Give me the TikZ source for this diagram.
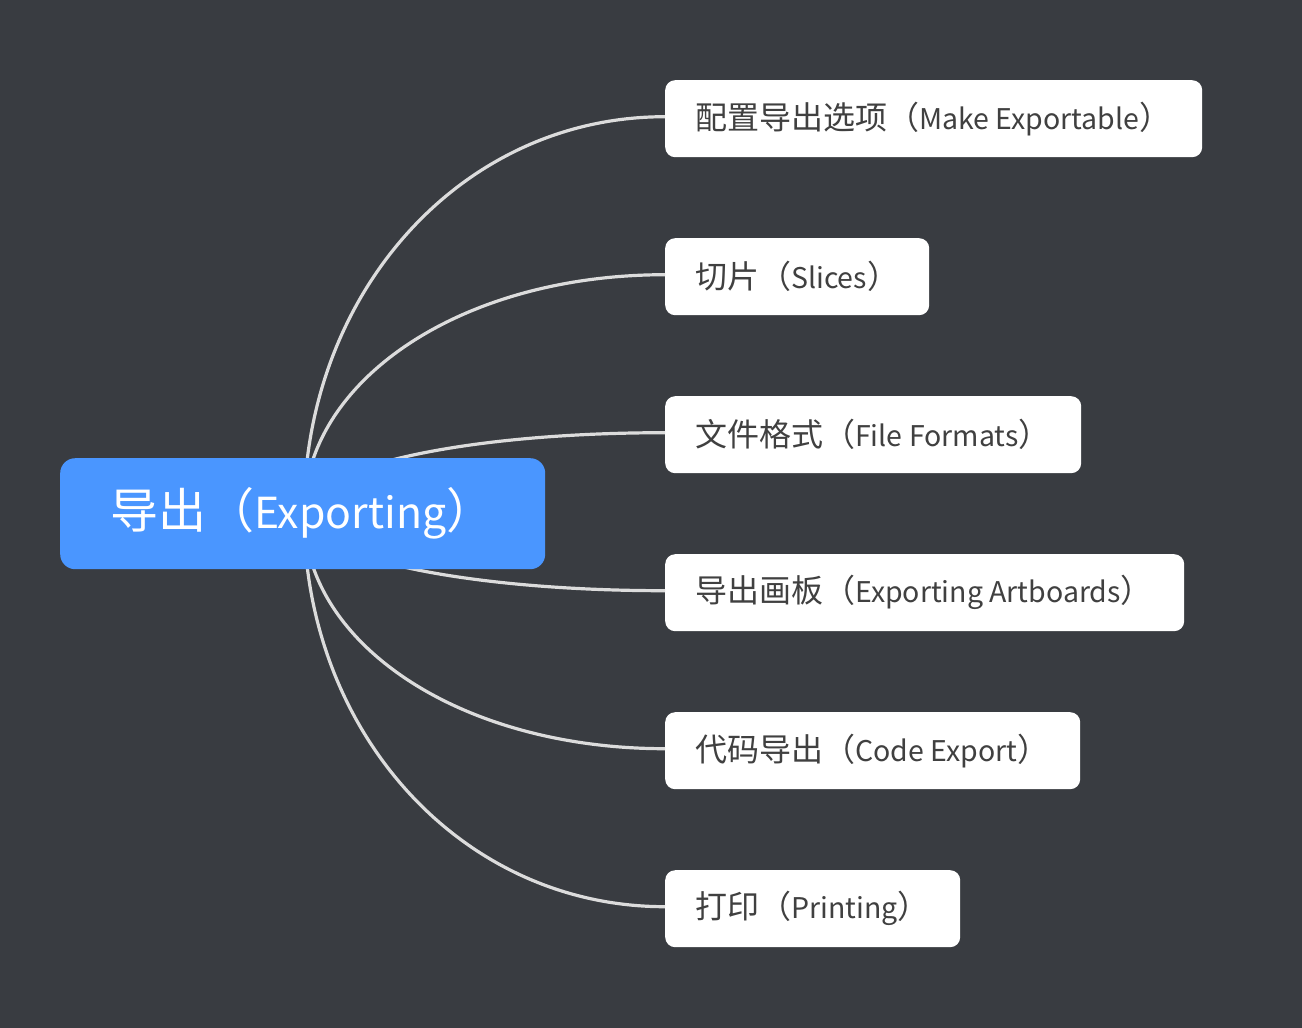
\documentclass[tikz,border=0pt]{standalone}
\usepackage{fontspec}
\setmainfont{Noto Sans CJK SC}
\newfontfamily\latfont[Scale=0.89]{Noto Sans CJK SC}
\newcommand\latn[1]{{\latfont #1}}
\definecolor{bgc}{HTML}{393C41}
\definecolor{rootc}{HTML}{4A96FF}
\definecolor{linec}{HTML}{DCDCDC}
\definecolor{txtc}{HTML}{404040}
\begin{document}
\begin{tikzpicture}[x=1pt,y=-1pt,
  rootbox/.style={fill=rootc, rounded corners=15pt, anchor=north west,
    minimum height=111pt, inner xsep=50pt, inner ysep=0pt, text=white,
    font=\fontsize{48pt}{56pt}\selectfont},
  childbox/.style={fill=white, rounded corners=10pt, anchor=north west,
    minimum height=77pt, inner xsep=30pt, inner ysep=0pt, text=txtc,
    font=\fontsize{32pt}{38pt}\selectfont},
  conn/.style={draw=linec, line width=3.2pt}]
\fill[bgc] (0,0) rectangle (1302,1028);
\useasboundingbox (0,0) rectangle (1302,1028);

\coordinate (hub) at (304,513.5);

\node[childbox] (c1) at (665,80)  {\makebox[477pt][l]{配置导出选项（\latn{Make Exportable}）}};
\node[childbox] (c2) at (665,238) {\makebox[204pt][l]{切片（\latn{Slices}）}};
\node[childbox] (c3) at (665,396) {\makebox[356pt][l]{文件格式（\latn{File Formats}）}};
\node[childbox] (c4) at (665,554) {\makebox[459pt][l]{导出画板（\latn{Exporting Artboards}）}};
\node[childbox] (c5) at (665,712) {\makebox[355pt][l]{代码导出（\latn{Code Export}）}};
\node[childbox] (c6) at (665,870) {\makebox[235pt][l]{打印（\latn{Printing}）}};

\draw[conn] (hub) .. controls +(0,-219) and +(-205,0) .. ([yshift=2pt]c1.west);
\draw[conn] (hub) .. controls +(0,-132) and +(-205,0) .. ([yshift=2pt]c2.west);
\draw[conn] (hub) .. controls +(0,-45)  and +(-205,0) .. ([yshift=2pt]c3.west);
\draw[conn] (hub) .. controls +(0,42)   and +(-205,0) .. ([yshift=2pt]c4.west);
\draw[conn] (hub) .. controls +(0,130)  and +(-205,0) .. ([yshift=2pt]c5.west);
\draw[conn] (hub) .. controls +(0,217)  and +(-205,0) .. ([yshift=2pt]c6.west);

\node[rootbox] (root) at (60,458) {\makebox[385pt][l]{导出（\latn{Exporting}）}};
\end{tikzpicture}
\end{document}
